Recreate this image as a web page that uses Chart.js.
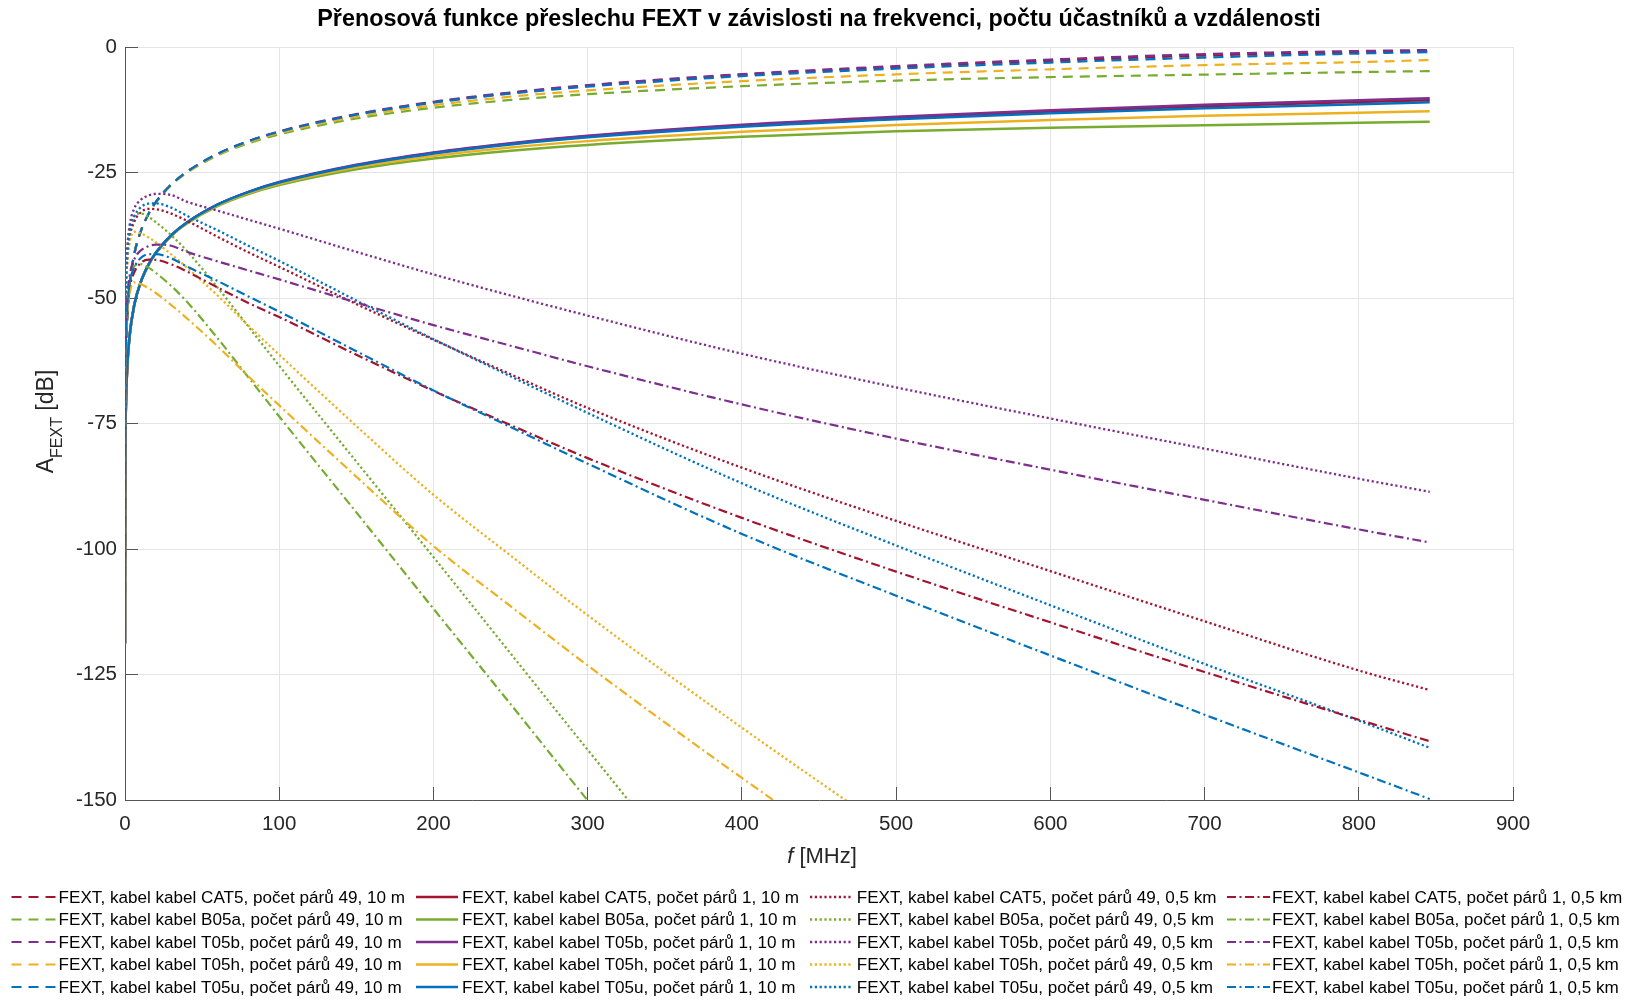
<!DOCTYPE html>
<html>
<head>
<meta charset="utf-8">
<script src="https://cdn.jsdelivr.net/npm/chart.js@4.4.1/dist/chart.umd.min.js"></script>
<style>
  html, body { margin: 0; padding: 0; background: #ffffff; }
  #wrap { width: 1635px; height: 1002px; position: relative; }
</style>
</head>
<body>
<div id="wrap"><canvas id="c" width="1635" height="1002"></canvas></div>
<script>
// ---------------- DATA ----------------
const TITLE = 'Přenosová funkce přeslechu FEXT v závislosti na frekvenci, počtu účastníků a vzdálenosti';
const X_TICKS = [0, 100, 200, 300, 400, 500, 600, 700, 800, 900];
const Y_TICKS = [-150, -125, -100, -75, -50, -25, 0];

// frequency points [MHz]
const FREQ = [0.003, 0.02, 0.1, 0.3, 0.7, 1.5, 3, 6, 10, 15, 20, 30, 40, 60, 80, 100, 150, 200, 250, 300, 400, 500, 600, 700, 800, 846];

// 49 pairs, 10 m (dashed)
const CAT5_49_10m = [-108.7, -90.9, -76.9, -67.4, -60.0, -53.4, -47.4, -41.3, -36.9, -33.4, -30.9, -27.4, -24.9, -21.3, -18.8, -16.9, -13.45, -11.0, -9.15, -7.7, -5.55, -4.0, -2.75, -1.7, -1.05, -0.8];
const B05a_49_10m = [-108.7, -90.9, -76.9, -67.4, -60.0, -53.4, -47.4, -41.3, -36.9, -33.4, -31.0, -27.5, -25.1, -21.6, -19.2, -17.4, -14.25, -12.1, -10.55, -9.4, -7.8, -6.7, -6.0, -5.5, -5.0, -4.8];
const T05b_49_10m = [-108.7, -90.9, -76.9, -67.4, -60.0, -53.4, -47.4, -41.3, -36.9, -33.4, -30.9, -27.4, -24.9, -21.3, -18.75, -16.8, -13.35, -10.9, -9.05, -7.6, -5.4, -3.8, -2.5, -1.4, -0.8, -0.6];
const T05h_49_10m = [-108.7, -90.9, -76.9, -67.4, -60.0, -53.4, -47.4, -41.3, -36.9, -33.4, -30.95, -27.45, -25.0, -21.45, -19.0, -17.15, -13.85, -11.6, -9.9, -8.65, -6.8, -5.45, -4.45, -3.6, -3.0, -2.6];
const T05u_49_10m = [-108.7, -90.9, -76.9, -67.4, -60.0, -53.4, -47.4, -41.3, -36.9, -33.4, -30.9, -27.4, -24.9, -21.3, -18.8, -16.9, -13.5, -11.1, -9.3, -7.9, -5.8, -4.3, -3.1, -2.1, -1.3, -1.0];

// 1 pair, 10 m (solid)
const CAT5_1_10m = [-118.8, -101, -87, -77.5, -70.1, -63.5, -57.5, -51.4, -47.0, -43.5, -41.0, -37.5, -35.0, -31.4, -28.9, -27.0, -23.55, -21.1, -19.25, -17.8, -15.65, -14.1, -12.85, -11.8, -10.95, -10.6];
const B05a_1_10m = [-118.8, -101, -87, -77.5, -70.1, -63.5, -57.5, -51.4, -47.0, -43.5, -41.1, -37.6, -35.2, -31.7, -29.3, -27.5, -24.35, -22.2, -20.65, -19.5, -17.9, -16.8, -16.1, -15.6, -15.1, -14.9];
const T05b_1_10m = [-118.8, -101, -87, -77.5, -70.1, -63.5, -57.5, -51.4, -47.0, -43.5, -41.0, -37.5, -35.0, -31.4, -28.85, -26.9, -23.45, -21.0, -19.15, -17.7, -15.5, -13.9, -12.6, -11.5, -10.6, -10.2];
const T05h_1_10m = [-118.8, -101, -87, -77.5, -70.1, -63.5, -57.5, -51.4, -47.0, -43.5, -41.05, -37.55, -35.1, -31.55, -29.1, -27.25, -23.95, -21.7, -20.0, -18.75, -16.9, -15.55, -14.55, -13.7, -13.1, -12.8];
const T05u_1_10m = [-118.8, -101, -87, -77.5, -70.1, -63.5, -57.5, -51.4, -47.0, -43.5, -41.0, -37.5, -35.0, -31.4, -28.9, -27.0, -23.6, -21.2, -19.4, -18.0, -15.9, -14.4, -13.2, -12.2, -11.4, -11.0];

// 49 pairs, 0.5 km (dotted)
const CAT5_49_05km = [-93, -77, -64, -55, -48, -42.5, -38, -34.8, -33.0, -32.25, -32.3, -33.2, -34.6, -37.8, -40.9, -43.8, -51.2, -58.3, -65.2, -71.9, -83.8, -94.4, -104.4, -114.4, -124.2, -128.1];
const B05a_49_05km = [-92, -76, -62.5, -53, -46, -40.5, -36.3, -33.6, -33.15, -33.8, -34.9, -37.5, -40.6, -47.9, -55.7, -63.5, -82.6, -101.6, -120.8, -140.0, -178, null, null, null, null, null];
const T05b_49_05km = [-92, -76, -62.5, -53, -46, -40, -35.5, -32.2, -30.5, -29.6, -29.25, -29.5, -30.8, -32.6, -34.4, -36.2, -40.8, -45.3, -49.5, -53.5, -61.1, -67.8, -74.0, -80.0, -86.0, -88.6];
const T05h_49_05km = [-93, -77, -64, -55, -48.5, -43, -39, -36.8, -37.1, -37.9, -38.9, -41.3, -43.9, -49.5, -55.5, -61.3, -75.5, -89.2, -101.3, -113.2, -135.6, -157, null, null, null, null];
const T05u_49_05km = [-93, -77, -63.5, -54, -47, -41.5, -37, -33.8, -32.0, -31.2, -31.15, -32.0, -33.6, -36.5, -39.6, -42.6, -50.5, -58.2, -65.6, -72.9, -86.9, -99.3, -111.2, -122.9, -134.2, -139.6];

// 1 pair, 0.5 km (dash-dot)
const CAT5_1_05km = [-103, -87, -74.1, -65.1, -58.1, -52.6, -48.1, -44.9, -43.1, -42.35, -42.4, -43.3, -44.7, -47.9, -51.0, -53.8, -61.3, -68.5, -75.3, -81.9, -93.8, -104.5, -114.6, -124.5, -134.0, -138.3];
const B05a_1_05km = [-102, -86, -72.6, -63.1, -56.1, -50.6, -46.4, -43.7, -43.25, -43.9, -45.0, -47.6, -50.7, -58.0, -65.8, -73.6, -92.7, -111.9, -130.9, -150.1, -188, null, null, null, null, null];
const T05b_1_05km = [-102, -86, -72.6, -63.1, -56.1, -50.1, -45.6, -42.3, -40.6, -39.7, -39.35, -39.6, -40.8, -42.7, -44.5, -46.3, -50.9, -55.4, -59.5, -63.6, -71.2, -78.0, -84.2, -90.2, -96.1, -98.7];
const T05h_1_05km = [-103, -87, -74.1, -65.1, -58.6, -53.1, -49.1, -46.9, -47.2, -48.0, -49.0, -51.4, -54.0, -59.6, -65.6, -71.4, -85.6, -99.4, -111.4, -123.2, -145.6, -167, null, null, null, null];
const T05u_1_05km = [-103, -87, -73.6, -64.1, -57.1, -51.6, -47.1, -43.9, -42.1, -41.3, -41.25, -42.1, -43.7, -46.6, -49.7, -52.7, -60.6, -68.4, -75.7, -83.0, -97.0, -109.3, -121.2, -133.0, -144.5, -149.8];

const CABLES = ['CAT5', 'B05a', 'T05b', 'T05h', 'T05u'];
const GROUPS = [
  { pairs: 49, dist: '10 m',   style: 'dashed',  values: [CAT5_49_10m, B05a_49_10m, T05b_49_10m, T05h_49_10m, T05u_49_10m] },
  { pairs: 1,  dist: '10 m',   style: 'solid',   values: [CAT5_1_10m, B05a_1_10m, T05b_1_10m, T05h_1_10m, T05u_1_10m] },
  { pairs: 49, dist: '0,5 km', style: 'dotted',  values: [CAT5_49_05km, B05a_49_05km, T05b_49_05km, T05h_49_05km, T05u_49_05km] },
  { pairs: 1,  dist: '0,5 km', style: 'dashdot', values: [CAT5_1_05km, B05a_1_05km, T05b_1_05km, T05h_1_05km, T05u_1_05km] }
];

// ---------------- STYLE ----------------
const COLORS = ['#A2142F', '#77AC30', '#7E2F8E', '#EDB120', '#0072BD'];
const DASHES = { dashed: [10, 7], solid: [], dotted: [2.2, 2.6], dashdot: [9, 3.5, 2, 3.5] };
const WIDTHS = { dashed: 2.2, solid: 2.5, dotted: 2.3, dashdot: 2.2 };
const FONT = '"Liberation Sans", Arial, Helvetica, sans-serif';

const datasets = [];
GROUPS.forEach((g, gi) => {
  g.values.forEach((arr, ci) => {
    const idx = gi * 5 + ci;
    datasets.push({
      label: 'FEXT, kabel kabel ' + CABLES[ci] + ', počet párů ' + g.pairs + ', ' + g.dist,
      data: FREQ.map((f, i) => ({ x: f, y: arr[i] })).filter(p => p.y !== null),
      borderColor: COLORS[ci],
      backgroundColor: COLORS[ci],
      borderWidth: WIDTHS[g.style],
      borderDash: DASHES[g.style],
      pointRadius: 0,
      fill: false,
      cubicInterpolationMode: 'monotone',
      order: 19 - idx
    });
  });
});

const annotPlugin = {
  id: 'annot',
  afterDraw(chart) {
    const ctx = chart.ctx;
    const a = chart.chartArea;
    ctx.save();
    // Title
    ctx.fillStyle = '#000000';
    let ts = 20;
    ctx.font = 'bold ' + ts + 'px ' + FONT;
    const tw = ctx.measureText(TITLE).width;
    ts = ts * 1004 / tw;
    ctx.font = 'bold ' + ts.toFixed(2) + 'px ' + FONT;
    ctx.textAlign = 'center';
    ctx.textBaseline = 'middle';
    ctx.fillText(TITLE, (a.left + a.right) / 2, 20);

    // X axis title: italic f + " [MHz]"
    ctx.fillStyle = '#262626';
    ctx.textAlign = 'left';
    ctx.textBaseline = 'alphabetic';
    const fI = 'italic 22px ' + FONT, fN = '22px ' + FONT;
    ctx.font = fI; const w1 = ctx.measureText('f').width;
    ctx.font = fN; const w2 = ctx.measureText(' [MHz]').width;
    let xs = (a.left + a.right) / 2 + 3 - (w1 + w2) / 2;
    const xb = 863;
    ctx.font = fI; ctx.fillText('f', xs, xb);
    ctx.font = fN; ctx.fillText(' [MHz]', xs + w1, xb);

    // Y axis title: A_FEXT [dB]
    ctx.save();
    ctx.translate(53, (a.top + a.bottom) / 2 - 2);
    ctx.rotate(-Math.PI / 2);
    const fBig = '23px ' + FONT, fSub = '16px ' + FONT;
    ctx.font = fBig; const wa = ctx.measureText('A').width;
    ctx.font = fSub; const wb = ctx.measureText('FEXT').width;
    ctx.font = fBig; const wc = ctx.measureText(' [dB]').width;
    let s = -(wa + wb + wc) / 2;
    ctx.font = fBig; ctx.fillText('A', s, 0);
    ctx.font = fSub; ctx.fillText('FEXT', s + wa, 9);
    ctx.font = fBig; ctx.fillText(' [dB]', s + wa + wb, 0);
    ctx.restore();

    // Legend (4 columns x 5 rows)
    const colSample = [[11.5, 56], [416, 458], [810, 852], [1227, 1270]];
    const colText = [58.6, 462, 856.7, 1272];
    const rowY = [897, 919.5, 942, 964.5, 987];
    ctx.font = '17.1px ' + FONT;
    ctx.textBaseline = 'middle';
    ctx.textAlign = 'left';
    chart.data.datasets.forEach((ds, i) => {
      const c = Math.floor(i / 5), r = i % 5;
      const y = rowY[r];
      ctx.save();
      ctx.strokeStyle = ds.borderColor;
      ctx.lineWidth = ds.borderWidth;
      ctx.setLineDash(ds.borderDash || []);
      ctx.beginPath();
      ctx.moveTo(colSample[c][0], y);
      ctx.lineTo(colSample[c][1], y);
      ctx.stroke();
      ctx.restore();
      ctx.fillStyle = '#000000';
      ctx.fillText(ds.label, colText[c], y + 1);
    });
    ctx.restore();
  }
};

new Chart(document.getElementById('c'), {
  type: 'line',
  data: { datasets },
  options: {
    responsive: false,
    devicePixelRatio: 1,
    animation: false,
    events: [],
    layout: { padding: { top: 47, right: 122, left: 0, bottom: 0 } },
    plugins: { legend: { display: false }, title: { display: false }, tooltip: { enabled: false } },
    elements: { line: { tension: 0 } },
    scales: {
      x: {
        type: 'linear',
        min: 0, max: 900,
        afterBuildTicks: (s) => { s.ticks = X_TICKS.map(v => ({ value: v })); },
        afterFit: (s) => { s.height = 202; },
        ticks: { color: '#262626', font: { family: FONT, size: 20.5 }, padding: 25, maxRotation: 0, autoSkip: false },
        grid: { color: '#e4e4e4', tickColor: '#555555', tickLength: -13, lineWidth: 1, tickWidth: 1 },
        border: { display: true, color: '#555555', width: 1 }
      },
      y: {
        type: 'linear',
        min: -150, max: 0,
        afterBuildTicks: (s) => { s.ticks = Y_TICKS.map(v => ({ value: v })); },
        afterFit: (s) => { s.width = 125; },
        ticks: { color: '#262626', font: { family: FONT, size: 20.5 }, padding: 21, autoSkip: false },
        grid: { color: '#e4e4e4', tickColor: '#555555', tickLength: -13, lineWidth: 1, tickWidth: 1 },
        border: { display: true, color: '#555555', width: 1 }
      }
    }
  },
  plugins: [annotPlugin]
});
</script>
</body>
</html>
